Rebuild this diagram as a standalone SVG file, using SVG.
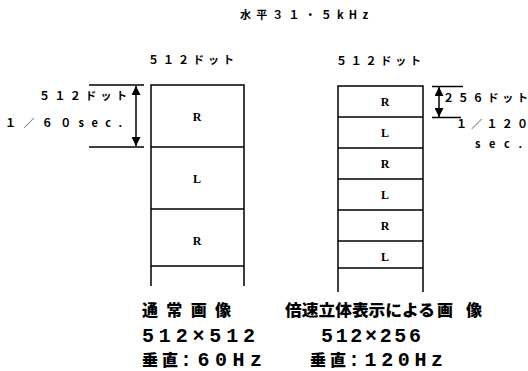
<svg xmlns="http://www.w3.org/2000/svg" width="528" height="371" viewBox="0 0 528 371">
<style>
.ln{stroke:#000;stroke-width:1.5;fill:none}
.jp{font-family:"Noto Sans CJK JP","DejaVu Sans",sans-serif;font-weight:bold;fill:#000}
.sm{font-size:11px}
.lg{font-size:16px;font-weight:900}
.num{font-family:"Liberation Mono","Noto Sans CJK JP",monospace;font-weight:bold;font-size:20px;fill:#000}
.cell{font-family:"Liberation Serif",serif;font-weight:bold;font-size:12px;fill:#000;text-anchor:middle}
</style>
<defs>
<marker id="ah" viewBox="0 0 8 8" refX="8" refY="4" markerWidth="6" markerHeight="6" orient="auto-start-reverse">
<path d="M0,0 L8,4 L0,8 z" fill="#000"/>
</marker>
</defs>
<rect width="528" height="371" fill="#fff"/>

<g id="title">
<text class="jp sm" x="240" y="19" textLength="128" lengthAdjust="spacing">水平３１・５kHz</text>
</g>

<g id="left-frame">
<text class="jp sm" x="148" y="64" textLength="86" lengthAdjust="spacing">５１２ドット</text>
<path class="ln" d="M151,286 V85 H244 V286 M151,147 H244 M151,209 H244 M151,266 H244"/>
<text class="cell" x="197" y="121">R</text>
<text class="cell" x="197" y="183">L</text>
<text class="cell" x="197" y="245">R</text>
</g>

<g id="right-frame">
<text class="jp sm" x="336" y="65" textLength="85" lengthAdjust="spacing">５１２ドット</text>
<path class="ln" d="M338,292 V86 H423 V292 M338,117 H423 M338,148 H423 M338,179 H423 M338,210 H423 M338,241 H423 M338,268 H423"/>
<text class="cell" x="385" y="106">R</text>
<text class="cell" x="385" y="137">L</text>
<text class="cell" x="385" y="168">R</text>
<text class="cell" x="385" y="199">L</text>
<text class="cell" x="385" y="230">R</text>
<text class="cell" x="385" y="261">L</text>
</g>

<g id="connectors">
<path class="ln" d="M89,85 H144 M89,147 H144"/>
<line class="ln" x1="136" y1="86" x2="136" y2="146" marker-start="url(#ah)" marker-end="url(#ah)"/>
<path class="ln" d="M432,86.5 H463 M432,117.5 H461"/>
<line class="ln" x1="439" y1="87" x2="439" y2="117" marker-start="url(#ah)" marker-end="url(#ah)"/>
</g>

<g id="left-dim-label">
<text class="jp sm" x="39" y="100" textLength="88" lengthAdjust="spacing">５１２ドット</text>
<text class="jp sm" x="5" y="127" textLength="117" lengthAdjust="spacing">１／６０sec.</text>
</g>

<g id="right-dim-label">
<text class="jp sm" x="443" y="102" textLength="85" lengthAdjust="spacing">２５６ドット</text>
<text class="jp sm" x="456" y="128" textLength="72" lengthAdjust="spacing">１／１２０</text>
<text class="jp sm" x="475" y="148" textLength="47" lengthAdjust="spacing">sec.</text>
</g>

<g id="caption-left">
<text class="jp lg" x="142" y="316" textLength="89" lengthAdjust="spacing">通常画像</text>
<text class="num" x="142" y="342" textLength="113" lengthAdjust="spacing">512×512</text>
<text class="jp lg" x="142" y="366" textLength="36" lengthAdjust="spacing">垂直</text>
<text class="num" x="180" y="366" textLength="82" lengthAdjust="spacing">:60Hz</text>
</g>

<g id="caption-right">
<text class="jp lg" x="285" y="316" textLength="150" lengthAdjust="spacingAndGlyphs">倍速立体表示による</text>
<text class="jp lg" x="437" y="316" textLength="45" lengthAdjust="spacing">画像</text>
<text class="num" x="321" y="342" textLength="100" lengthAdjust="spacing">512×256</text>
<text class="jp lg" x="310" y="366" textLength="36" lengthAdjust="spacing">垂直</text>
<text class="num" x="348" y="366" textLength="95" lengthAdjust="spacing">:120Hz</text>
</g>
</svg>
